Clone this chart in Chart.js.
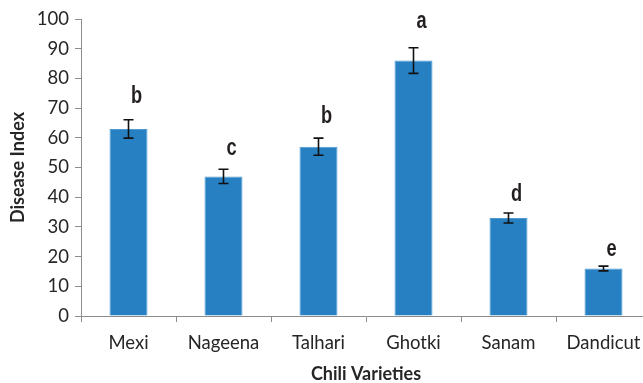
<!DOCTYPE html>
<html>
<head>
<meta charset="utf-8">
<script src="https://cdn.jsdelivr.net/npm/chart.js@4/dist/chart.umd.min.js"></script>
<style>
  html, body { margin: 0; padding: 0; background: #ffffff; overflow: hidden; }
  #wrap { position: relative; width: 651px; height: 383px; }
</style>
</head>
<body>
<div id="wrap"><canvas id="chart"></canvas></div>
<script>
// Disease index of chili varieties with standard error and significance groups
const varieties = ["Mexi", "Nageena", "Talhari", "Ghotki", "Sanam", "Dandicut"];
const diseaseIndex = [63, 47, 57, 86, 33, 16];
const stdError = [3.1, 2.4, 2.9, 4.3, 1.7, 0.8];
const groupLetters = ["b", "c", "b", "a", "d", "e"];
const yTicks = [0, 10, 20, 30, 40, 50, 60, 70, 80, 90, 100];

const axisGray = "#8c8c8c";
const textColor = "#262626";
const tickFont = { family: "Lato, 'Open Sans', sans-serif", size: 18.5 };
const titleFont = { family: "Lato, 'Open Sans', sans-serif", size: 18, weight: "bold", lineHeight: 1.0 };

// Error whiskers with caps, drawn through the scales
const errorBars = {
  id: "errorBars",
  afterDatasetsDraw(chart) {
    const { ctx, scales: { x, y } } = chart;
    ctx.save();
    ctx.strokeStyle = "#111111";
    ctx.lineWidth = 1.6;
    diseaseIndex.forEach((v, i) => {
      const cx = x.getPixelForValue(i);
      const top = y.getPixelForValue(v + stdError[i]);
      const bot = y.getPixelForValue(v - stdError[i]);
      ctx.beginPath();
      ctx.moveTo(cx, top); ctx.lineTo(cx, bot);
      ctx.moveTo(cx - 5, top); ctx.lineTo(cx + 5, top);
      ctx.moveTo(cx - 5, bot); ctx.lineTo(cx + 5, bot);
      ctx.stroke();
    });
    ctx.restore();
  }
};

// Significance letters above each whisker, in a condensed bold face;
// the gap above the whisker grows a little with bar height
const groupLabels = {
  id: "groupLabels",
  afterDatasetsDraw(chart) {
    const { ctx, scales: { x, y } } = chart;
    ctx.save();
    ctx.fillStyle = "#231f20";
    ctx.font = "bold 24px 'Liberation Sans', Arial, sans-serif";
    ctx.textAlign = "center";
    ctx.textBaseline = "middle";
    groupLetters.forEach((t, i) => {
      const cx = x.getPixelForValue(i) + 8;
      const top = y.getPixelForValue(diseaseIndex[i] + stdError[i]);
      const gap = 14 + 0.14 * diseaseIndex[i];
      ctx.save();
      ctx.translate(cx, top - gap);
      ctx.scale(0.76, 1);
      ctx.fillText(t, 0, 0);
      ctx.restore();
    });
    ctx.restore();
  }
};

new Chart(document.getElementById("chart"), {
  type: "bar",
  data: {
    labels: varieties,
    datasets: [{
      data: diseaseIndex,
      backgroundColor: "#2680c2",
      borderColor: "#4f9ad3",
      borderWidth: 1,
      categoryPercentage: 1.0,
      barPercentage: 0.4
    }]
  },
  options: {
    responsive: true,
    maintainAspectRatio: false,
    animation: false,
    layout: { padding: { top: 19, right: 0, left: 0, bottom: 0 } },
    plugins: { legend: { display: false }, tooltip: { enabled: false } },
    scales: {
      x: {
        grid: { offset: true, drawOnChartArea: false, drawTicks: true, tickLength: 6, color: axisGray, lineWidth: 1 },
        border: { color: axisGray, width: 1 },
        ticks: { color: textColor, font: tickFont, padding: 10, maxRotation: 0 },
        title: { display: true, text: "Chili Varieties", color: textColor, font: titleFont, padding: { top: 0, bottom: 0 } },
        afterFit(scale) { scale.height = 67; }
      },
      y: {
        min: 0,
        max: 100,
        afterBuildTicks(scale) { scale.ticks = yTicks.map(v => ({ value: v })); },
        grid: { drawOnChartArea: false, drawTicks: true, tickLength: 6, color: axisGray, lineWidth: 1 },
        border: { color: axisGray, width: 1 },
        ticks: { color: textColor, font: tickFont, padding: 6 },
        title: { display: true, text: "Disease Index", color: textColor, font: titleFont, padding: { top: 9, bottom: 0 } },
        afterFit(scale) { scale.width = 81; }
      }
    }
  },
  plugins: [errorBars, groupLabels]
});
</script>
</body>
</html>
